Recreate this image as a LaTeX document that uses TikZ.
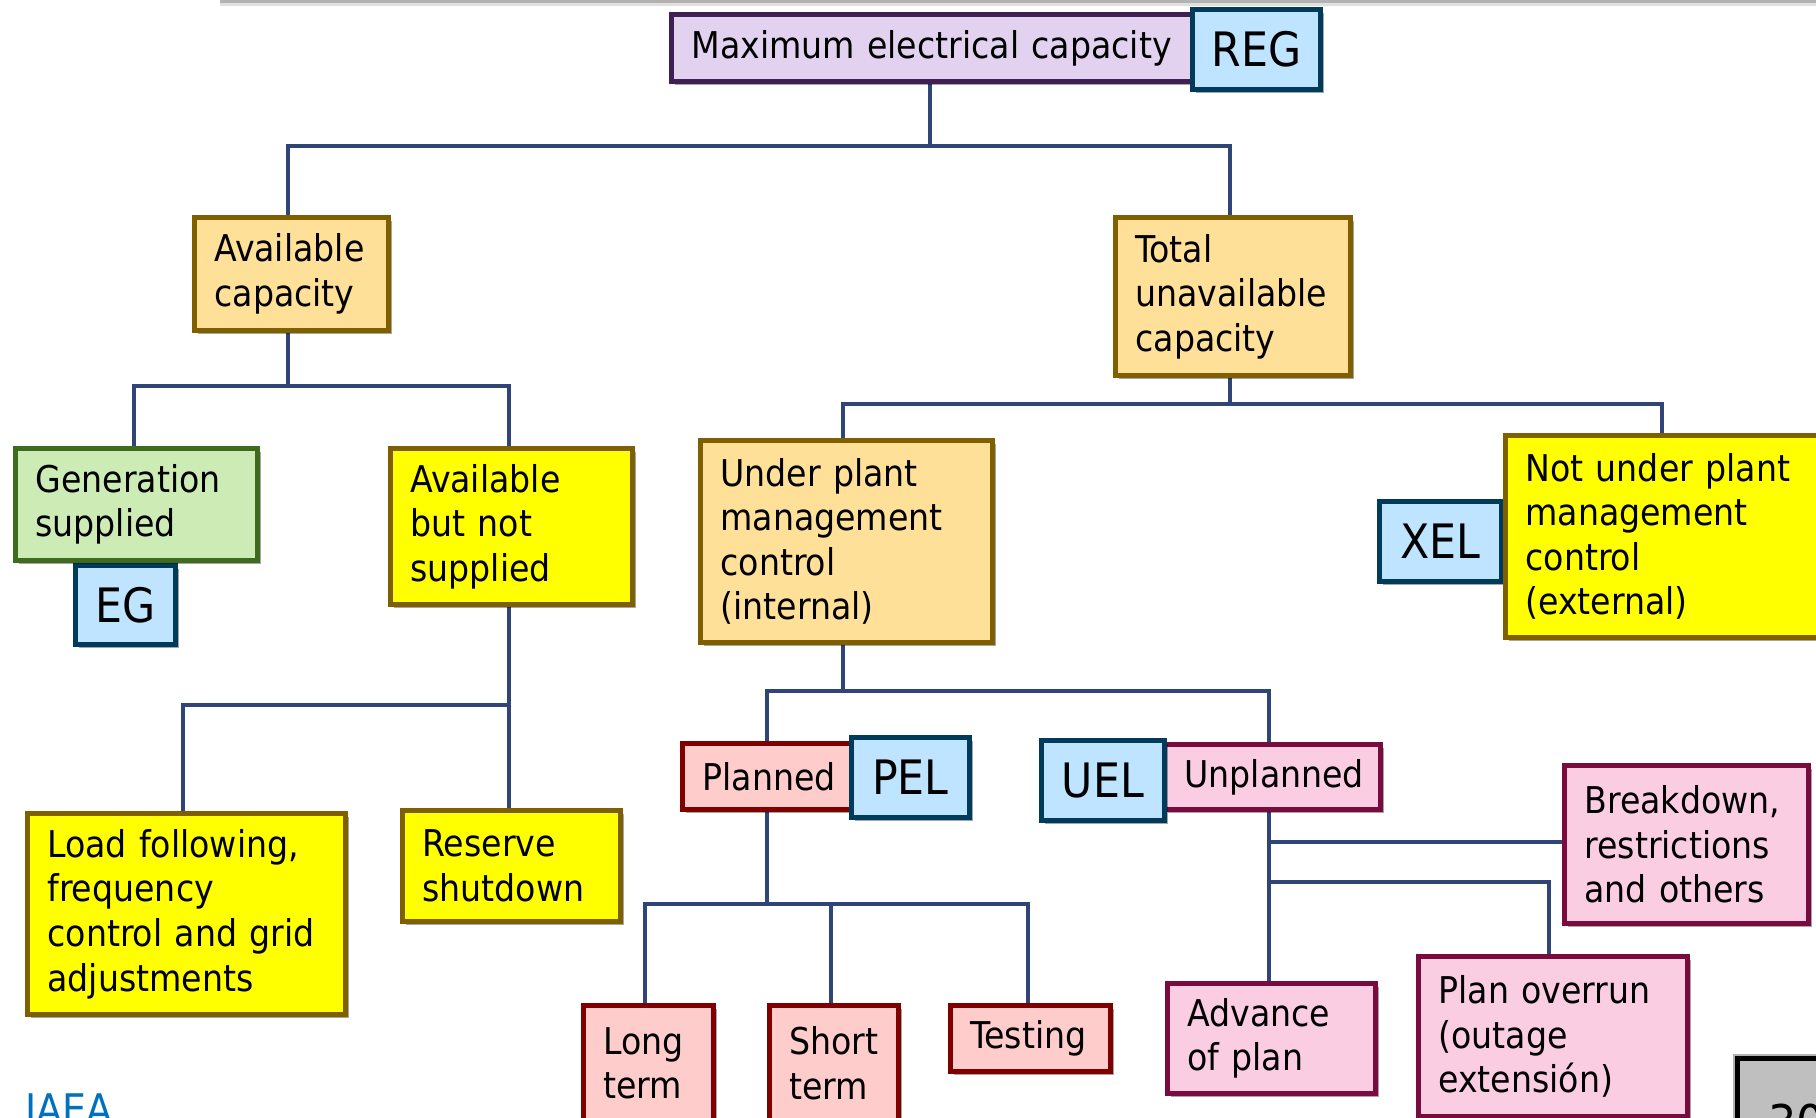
\documentclass[tikz,border=0pt]{standalone}
\usepackage{fontspec}
\setmainfont{DejaVu Sans Condensed}
\usetikzlibrary{shadows}

\definecolor{linkblue}{RGB}{47,69,119}
\definecolor{sandfill}{RGB}{255,224,153}
\definecolor{sandline}{RGB}{127,95,0}
\definecolor{lemonfill}{RGB}{255,255,0}
\definecolor{leaffill}{RGB}{204,235,181}
\definecolor{leafline}{RGB}{63,107,31}
\definecolor{lilacfill}{RGB}{226,210,240}
\definecolor{lilacline}{RGB}{63,31,85}
\definecolor{skyfill}{RGB}{191,228,255}
\definecolor{skyline}{RGB}{0,59,92}
\definecolor{rosefill}{RGB}{255,204,204}
\definecolor{roseline}{RGB}{128,0,0}
\definecolor{pinkfill}{RGB}{250,205,227}
\definecolor{pinkline}{RGB}{122,11,62}
\definecolor{iaeablue}{RGB}{0,113,188}

\tikzset{
  box/.style 2 args={draw, rectangle, line width=2.8pt, anchor=north west,
    minimum width=#1cm, minimum height=#2cm, text width={#1cm-0.8cm},
    align=left, inner xsep=0.4cm, inner ysep=0pt,
    font=\fontsize{21}{25.4}\selectfont,
    drop shadow={shadow xshift=0.08cm, shadow yshift=-0.08cm, opacity=0.35, fill=black}},
  tag/.style 2 args={draw=skyline, fill=skyfill, rectangle, line width=2.8pt,
    anchor=north west, minimum width=#1cm, minimum height=#2cm, inner sep=0pt,
    font=\fontsize{27}{30}\selectfont,
    drop shadow={shadow xshift=0.08cm, shadow yshift=-0.08cm, opacity=0.35, fill=black}},
  sand/.style={fill=sandfill, draw=sandline},
  lemon/.style={fill=lemonfill, draw=sandline},
  leaf/.style={fill=leaffill, draw=leafline},
  lilac/.style={fill=lilacfill, draw=lilacline},
  rose/.style={fill=rosefill, draw=roseline},
  pink/.style={fill=pinkfill, draw=pinkline},
  link/.style={draw=linkblue, line width=2.6pt}
}

\begin{document}
\begin{tikzpicture}[x=0.02cm, y=-0.02cm]
\useasboundingbox (0,0) rectangle (1816,1117);
% slide header edge
\fill[black!12] (220,2) rectangle (1816,6);
\fill[black!30] (220,0) rectangle (1816,2.5);

% connectors
\draw[link] (930,79) -- (930,146) -| (288,215);
\draw[link] (930,146) -| (1230,215);
\draw[link] (288,328) -- (288,386) -| (134,446);
\draw[link] (288,386) -| (509,446);
\draw[link] (509,602) -- (509,705) -| (183,811);
\draw[link] (509,705) -- (509,808);
\draw[link] (1230,373) -- (1230,404) -| (843,438);
\draw[link] (1230,404) -| (1662,433);
\draw[link] (843,640) -- (843,691) -| (767,741);
\draw[link] (843,691) -| (1269,742);
\draw[link] (767,807) -- (767,904) -| (645,1003);
\draw[link] (767,904) -| (831,1003);
\draw[link] (767,904) -| (1028,1003);
\draw[link] (1269,807) -- (1269,981);
\draw[link] (1269,842) -- (1562,842);
\draw[link] (1269,882) -| (1549,954);

% boxes
\node[box={10.42}{1.34}, lilac] (max) at (669,12) {Maximum electrical capacity};
\node[tag={2.56}{1.60}] (reg) at (1190,7) {REG};
\node[box={3.88}{2.26}, sand] (avail) at (192,215) {Available\\capacity};
\node[box={4.70}{3.16}, sand] (total) at (1113,215) {Total\\unavailable\\capacity};
\node[tag={2.00}{1.58}] (eg) at (73,563) {EG};
\node[box={4.84}{2.24}, leaf] (gen) at (13,446) {Generation\\supplied};
\node[box={4.84}{3.12}, lemon] (notsup) at (388,446) {Available\\but not\\supplied};
\node[box={6.36}{4.02}, lemon] (load) at (25,811) {Load following,\\frequency\\control and grid\\adjustments};
\node[box={4.36}{2.22}, lemon] (reserve) at (400,808) {Reserve\\shutdown};
\node[box={5.84}{4.04}, sand] (under) at (698,438) {Under plant\\management\\control\\(internal)};
\node[tag={2.44}{1.60}] (xel) at (1377,499) {XEL};
\node[box={6.38}{4.04}, lemon] (notunder) at (1503,433) {Not under plant\\management\\control\\(external)};
\node[box={3.38}{1.32}, rose] (planned) at (680,741) {Planned};
\node[tag={2.36}{1.60}] (pel) at (849,735) {PEL};
\node[box={4.32}{1.30}, pink] (unplanned) at (1162,742) {Unplanned};
\node[tag={2.46}{1.60}] (uel) at (1039,738) {UEL};
\node[box={2.60}{2.32}, rose] (long) at (581,1003) {Long\\term};
\node[box={2.58}{2.32}, rose] (short) at (767,1003) {Short\\term};
\node[box={3.20}{1.32}, rose] (testing) at (948,1003) {Testing};
\node[box={4.16}{2.20}, pink] (advance) at (1165,981) {Advance\\of plan};
\node[box={5.38}{3.20}, pink] (overrun) at (1416,954) {Plan overrun\\(outage\\extensión)};
\node[box={4.88}{3.16}, pink] (breakdown) at (1562,763) {Breakdown,\\restrictions\\and others};

% slide furniture
\node[draw=black, fill=black!25, line width=2.8pt, anchor=north west,
  minimum width=3cm, minimum height=2cm,
  drop shadow={shadow xshift=-0.08cm, shadow yshift=0.08cm, opacity=0.3, fill=black}] (page) at (1735,1056) {};
\node[anchor=base west, inner sep=0pt, font=\fontsize{28}{30}\selectfont] (pagenum) at (1768,1140) {30};
\node[anchor=base west, inner sep=0pt, text=iaeablue, font=\fontsize{24}{24}\selectfont] (logo) at (25,1124) {IAEA};
\end{tikzpicture}
\end{document}
